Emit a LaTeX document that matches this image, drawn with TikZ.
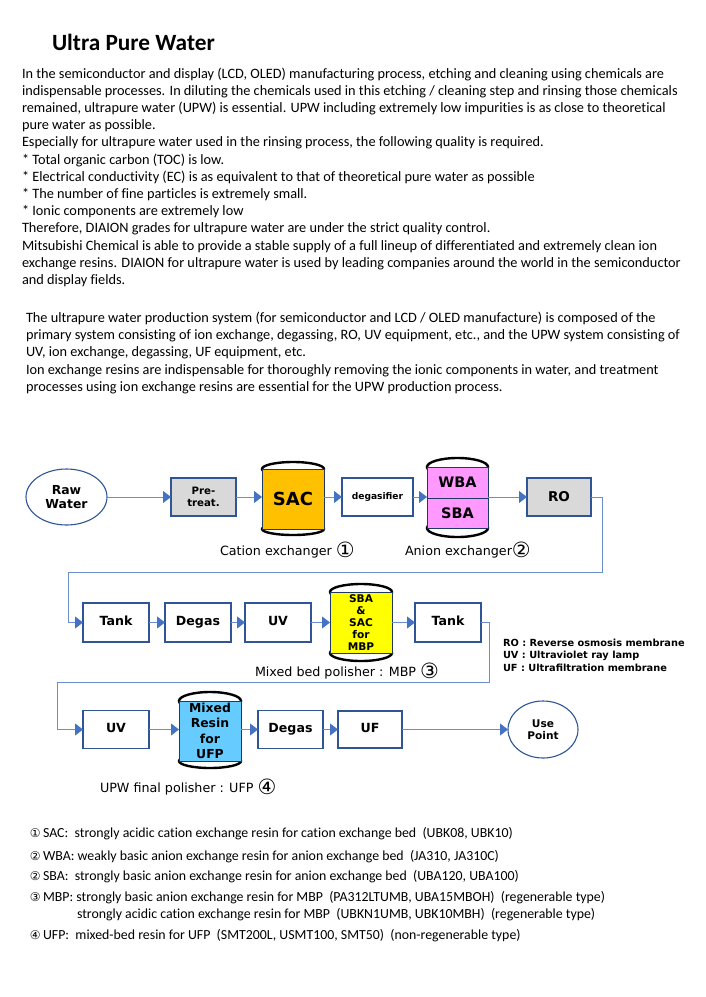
\documentclass[tikz,border=0pt]{standalone}
\usepackage{fontspec}
\setmainfont{Carlito}[Ligatures=NoCommon]
\newfontfamily\dv{DejaVu Sans}
\usetikzlibrary{arrows.meta,shapes.geometric}
\definecolor{boxblue}{HTML}{2F5597}
\definecolor{lineblue}{HTML}{6A8CD2}
\definecolor{tipblue}{HTML}{4472C4}
\definecolor{grayfill}{HTML}{D9D9D9}
\definecolor{sacfill}{HTML}{FFC000}
\definecolor{wbafill}{HTML}{FF99FF}
\definecolor{mbpfill}{HTML}{FFFF00}
\definecolor{ufpfill}{HTML}{66CCFF}
\definecolor{cylline}{HTML}{1F3864}
\newcommand\fsz[2]{\fontsize{#1}{#2}\selectfont}
\newcommand\circbig[1]{\raisebox{-2pt}{\dv\fsz{21}{21}#1}}
\newcommand\circsmall[1]{{\dv\fsz{12}{12}#1}}
\begin{document}
\begin{tikzpicture}[x=1pt,y=-1pt,
  every node/.style={inner sep=0pt,outer sep=0pt},
  txt/.style={anchor=base west,font=\fsz{14.3}{17}},
  leg/.style={anchor=base west,font=\fsz{13.85}{16}},
  box/.style={draw=boxblue,line width=1.1pt,fill=white,align=center,font=\dv\bfseries\fsz{12.6}{14}},
  sbox/.style={box,text height=9.2pt,text depth=2.4pt},
  oval/.style={ellipse,draw=boxblue,line width=1.1pt,fill=white,align=center},
  cylbody/.style={draw=cylline,line width=1pt,align=center,font=\dv\bfseries},
  capline/.style={draw=black,line width=2.4pt},
  flow/.style={draw=lineblue,line width=1pt,-{Triangle[length=8pt,width=12pt,color=tipblue]}},
  lab/.style={anchor=west,font=\dv\fsz{12.7}{14}},
  abbr/.style={anchor=west,font=\dv\bfseries\fsz{9.8}{11}}]
\fill[white] (0,0) rectangle (705,997);
\useasboundingbox (0,0) rectangle (705,997);
% title and text
\node[anchor=base west,font=\bfseries\fsz{23.3}{26}] (title) at (52,50) {Ultra Pure Water};
\node[txt] (t1) at (22,78) {In the semiconductor and display (LCD, OLED) manufacturing process, etching and cleaning using chemicals are};
\node[txt] (t2) at (22,95.2) {indispensable processes. In diluting the chemicals used in this etching / cleaning step and rinsing those chemicals};
\node[txt] (t3) at (22,112.4) {remained, ultrapure water (UPW) is essential. UPW including extremely low impurities is as close to theoretical};
\node[txt] (t4) at (22,129.6) {pure water as possible.};
\node[txt] (t5) at (22,146.8) {Especially for ultrapure water used in the rinsing process, the following quality is required.};
\node[txt] (t6) at (22,164) {* Total organic carbon (TOC) is low.};
\node[txt] (t7) at (22,181.2) {* Electrical conductivity (EC) is as equivalent to that of theoretical pure water as possible};
\node[txt] (t8) at (22,198.4) {* The number of fine particles is extremely small.};
\node[txt] (t9) at (22,215.6) {* Ionic components are extremely low};
\node[txt] (t10) at (22,232.8) {Therefore, DIAION grades for ultrapure water are under the strict quality control.};
\node[txt] (t11) at (22,250) {Mitsubishi Chemical is able to provide a stable supply of a full lineup of differentiated and extremely clean ion};
\node[txt] (t12) at (22,267.2) {exchange resins. DIAION for ultrapure water is used by leading companies around the world in the semiconductor};
\node[txt] (t13) at (22,284.4) {and display fields.};
\node[txt] (p1) at (26,322.5) {The ultrapure water production system (for semiconductor and LCD / OLED manufacture) is composed of the};
\node[txt] (p2) at (26,339.7) {primary system consisting of ion exchange, degassing, RO, UV equipment, etc., and the UPW system consisting of};
\node[txt] (p3) at (26,356.9) {UV, ion exchange, degassing, UF equipment, etc.};
\node[txt] (p4) at (26,374.1) {Ion exchange resins are indispensable for thoroughly removing the ionic components in water, and treatment};
\node[txt] (p5) at (26,391.3) {processes using ion exchange resins are essential for the UPW production process.};
% row 1
\node[oval,minimum width=81,minimum height=56,font=\dv\bfseries\fsz{12.4}{14.5}] (raw) at (66.5,497) {Raw\\Water};
\node[box,fill=grayfill,minimum width=65,minimum height=38,font=\dv\bfseries\fsz{10.2}{12.5}] (pre) at (203.5,497) {Pre-\\treat.};
\draw[capline] (293,469) ellipse [x radius=31,y radius=7];
\draw[capline] (293,529) ellipse [x radius=31,y radius=6];
\node[cylbody,fill=sacfill,minimum width=62,minimum height=60,font=\dv\bfseries\fsz{18}{20}] (sac) at (293,499) {SAC};
\node[box,minimum width=71,minimum height=38,font=\dv\bfseries\fsz{9.1}{10}] (deg1) at (377.5,497) {degasifier};
\draw[capline] (457.5,467) ellipse [x radius=30.5,y radius=9];
\draw[capline] (457.5,528) ellipse [x radius=30.5,y radius=9];
\node[cylbody,fill=wbafill,minimum width=61,minimum height=31,font=\dv\bfseries\fsz{14.5}{15}] (wba) at (457.5,482.5) {WBA};
\node[cylbody,fill=wbafill,minimum width=61,minimum height=30,font=\dv\bfseries\fsz{14.5}{15}] (sba) at (457.5,513) {SBA};
\node[box,fill=grayfill,minimum width=64,minimum height=38,font=\dv\bfseries\fsz{13.5}{14}] (ro) at (559,497) {RO};
\node[lab] (catlab) at (220,550) {Cation exchanger \circbig{①}};
\node[lab] (anlab) at (405,550) {Anion exchanger\circbig{②}};
\draw[flow] (raw.east) -- (pre.west);
\draw[flow] (pre.east) -- (pre.east -| sac.west);
\draw[flow] (sac.east |- deg1.west) -- (deg1.west);
\draw[flow] (deg1.east) -- (deg1.east -| wba.west);
\draw[flow] (ro.west -| wba.east) -- (ro.west);
% row 2
\node[sbox,minimum width=66,minimum height=39] (tank1) at (116,622.5) {Tank};
\node[sbox,minimum width=66,minimum height=39] (deg2) at (198,622.5) {Degas};
\node[sbox,minimum width=66,minimum height=39] (uv1) at (278,622.5) {UV};
\draw[capline] (361,592) ellipse [x radius=31,y radius=8];
\draw[capline] (361,653) ellipse [x radius=31,y radius=8];
\node[cylbody,fill=mbpfill,minimum width=62,minimum height=61,font=\dv\bfseries\fsz{10.6}{12.2}] (mbp) at (361,622.5) {SBA\\\&\\SAC\\for\\MBP};
\node[sbox,minimum width=66,minimum height=39] (tank2) at (448,622.5) {Tank};
\node[lab] (mbplab) at (255,671) {Mixed bed polisher : MBP \circbig{③}};
\node[abbr] (ab1) at (503,643) {RO : Reverse osmosis membrane};
\node[abbr] (ab2) at (503,655.5) {UV : Ultraviolet ray lamp};
\node[abbr] (ab3) at (503,668) {UF : Ultrafiltration membrane};
\coordinate (r1) at (602,572);
\coordinate (r2) at (68,572);
\draw[flow] (ro.east) -| (r1) -- (r2) |- (tank1.west);
\draw[flow] (tank1.east) -- (deg2.west);
\draw[flow] (deg2.east) -- (uv1.west);
\draw[flow] (uv1.east) -- (uv1.east -| mbp.west);
\draw[flow] (mbp.east |- tank2.west) -- (tank2.west);
% row 3
\node[sbox,minimum width=66,minimum height=38] (uv2) at (116,729.5) {UV};
\draw[capline] (210,701) ellipse [x radius=31,y radius=9];
\draw[capline] (210,761) ellipse [x radius=31,y radius=7];
\node[cylbody,fill=ufpfill,minimum width=62,minimum height=60,font=\dv\bfseries\fsz{12.4}{15.3}] (ufp) at (210,731) {Mixed\\Resin\\for\\UFP};
\node[sbox,minimum width=65,minimum height=38] (deg3) at (290.5,729.5) {Degas};
\node[sbox,minimum width=64,minimum height=37] (uf) at (370,729.5) {UF};
\node[oval,minimum width=70,minimum height=57,font=\dv\bfseries\fsz{10.6}{12.5}] (use) at (543,729.5) {Use\\Point};
\node[lab] (ufplab) at (100,787) {UPW final polisher : UFP \circbig{④}};
\coordinate (s1) at (489,682);
\coordinate (s2) at (57,682);
\draw[flow] (tank2.east) -| (s1) -- (s2) |- (uv2.west);
\draw[flow] (uv2.east) -- (uv2.east -| ufp.west);
\draw[flow] (ufp.east |- deg3.west) -- (deg3.west);
\draw[flow] (deg3.east) -- (uf.west);
\draw[flow] (uf.east) -- (use.west);
% legend
\node[leg] (l1) at (30,837.5) {\circsmall{①}\,SAC:~~strongly acidic cation exchange resin for cation exchange bed~~(UBK08, UBK10)};
\node[leg] (l2) at (30,860.5) {\circsmall{②}\,WBA: weakly basic anion exchange resin for anion exchange bed~~(JA310, JA310C)};
\node[leg] (l3) at (30,880.5) {\circsmall{②}\,SBA:~~strongly basic anion exchange resin for anion exchange bed~~(UBA120, UBA100)};
\node[leg] (l4) at (30,901.5) {\circsmall{③}\,MBP: strongly basic anion exchange resin for MBP~~(PA312LTUMB, UBA15MBOH)~~(regenerable type)};
\node[leg] (l5) at (77,918.5) {strongly acidic cation exchange resin for MBP~~(UBKN1UMB, UBK10MBH)~~(regenerable type)};
\node[leg] (l6) at (30,939.5) {\circsmall{④}\,UFP:~~mixed-bed resin for UFP~~(SMT200L, USMT100, SMT50)~~(non-regenerable type)};
\end{tikzpicture}
\end{document}
